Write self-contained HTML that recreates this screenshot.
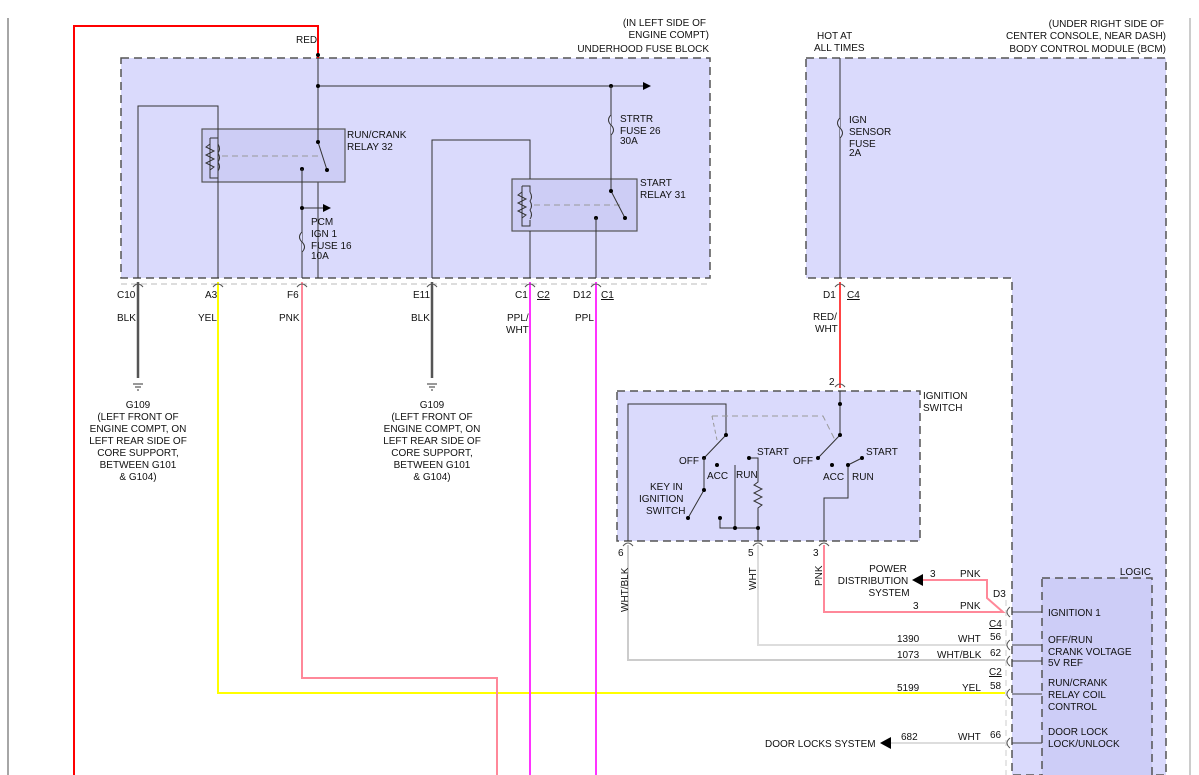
<!DOCTYPE html>
<html><head><meta charset="utf-8"><style>
html,body{margin:0;padding:0;background:#fff}
svg{display:block}
text{font-family:"Liberation Sans",sans-serif;font-size:10px;fill:#111}
</style></head><body>
<svg width="1199" height="775" viewBox="0 0 1199 775" xmlns="http://www.w3.org/2000/svg">
<defs>
<marker id="ar" markerWidth="8" markerHeight="8" refX="7" refY="4" orient="auto" markerUnits="userSpaceOnUse"><path d="M0,0 L8,4 L0,8z" fill="#000"/></marker>
</defs>
<line x1="8" y1="18" x2="8" y2="775" stroke="#888" stroke-width="1.5"/>
<line x1="1190" y1="18" x2="1190" y2="775" stroke="#bbb" stroke-width="1.5"/>

<rect x="121" y="58" width="589" height="220" fill="#dadafc" stroke="#555" stroke-dasharray="8,5" stroke-width="1.5"/>
<path d="M806,58 H1166 V775 H1012 V278 H806 Z" fill="#dadafc" stroke="#555" stroke-dasharray="8,5" stroke-width="1.5"/>
<rect x="1042" y="578" width="110" height="200" fill="#cdcdf7" stroke="#555" stroke-dasharray="8,5" stroke-width="1.5"/>
<rect x="617" y="391" width="303" height="150" fill="#dadafc" stroke="#555" stroke-dasharray="8,5" stroke-width="1.5"/>

<g text-anchor="end">
<text x="706" y="26">(IN LEFT SIDE OF</text>
<text x="709" y="38">ENGINE COMPT)</text>
<text x="709" y="52">UNDERHOOD FUSE BLOCK</text>
<text x="1164" y="27">(UNDER RIGHT SIDE OF</text>
<text x="1166" y="39">CENTER CONSOLE, NEAR DASH)</text>
<text x="1166" y="52">BODY CONTROL MODULE (BCM)</text>
<text x="1151" y="575">LOGIC</text>
</g>
<text x="817" y="39">HOT AT</text>
<text x="814" y="51">ALL TIMES</text>
<text x="296" y="43">RED</text>

<path d="M318,58 V26 H74 V775" fill="none" stroke="#f00" stroke-width="2"/>
<path d="M318,58 V278" stroke="#333" fill="none"/>
<line x1="318" y1="86" x2="650" y2="86" stroke="#333" marker-end="url(#ar)"/>
<circle cx="318" cy="86" r="2"/><circle cx="611" cy="86" r="2"/><circle cx="318" cy="55" r="2"/>
<rect x="202" y="129" width="143" height="53" fill="#cdcdf5" stroke="#555" stroke-width="1.2"/>
<path d="M138,278 V106 H218 V182 M218,182 V278 M302,182 V278" stroke="#333" fill="none"/>
<path d="M210,138 h8 v6 M210,138 v40 h8 v-6" stroke="#333" fill="none"/>
<path d="M210,144 l-4,3 8,4 -8,4 8,4 -8,4 8,4 -4,3" stroke="#333" fill="none"/>
<path d="M218,144 q3,5 0,9 q3,5 0,9 q3,5 0,9" stroke="#333" fill="none"/>
<line x1="222" y1="156" x2="318" y2="156" stroke="#999" stroke-dasharray="6,4"/>
<path d="M318,129 V142 L327,170" stroke="#333" fill="none"/><circle cx="318" cy="142" r="2"/><circle cx="327" cy="170" r="2"/>
<circle cx="302" cy="169" r="2"/><line x1="302" y1="169" x2="302" y2="182" stroke="#333"/>
<line x1="302" y1="208" x2="330" y2="208" stroke="#333" marker-end="url(#ar)"/><circle cx="302" cy="208" r="2"/>
<path d="M302,232 q-5,5 0,10 q5,5 0,10" fill="#dadafc" stroke="#333"/>
<text x="311" y="225">PCM</text><text x="311" y="237">IGN 1</text><text x="311" y="249">FUSE 16</text><text x="311" y="259">10A</text>
<text x="347" y="138">RUN/CRANK</text><text x="347" y="150">RELAY 32</text>
<rect x="512" y="179" width="125" height="52" fill="#cdcdf5" stroke="#555" stroke-width="1.2"/>
<path d="M432,278 V140 H530 V179 M530,231 V278 M596,231 V278 M611,86 V179" stroke="#333" fill="none"/>
<path d="M522,186 h8 v6 M522,186 v40 h8 v-6" stroke="#333" fill="none"/>
<path d="M522,192 l-4,3 8,4 -8,4 8,4 -8,4 8,4 -4,3" stroke="#333" fill="none"/>
<path d="M530,192 q3,5 0,9 q3,5 0,9 q3,5 0,9" stroke="#333" fill="none"/>
<line x1="534" y1="205" x2="620" y2="205" stroke="#999" stroke-dasharray="6,4"/>
<path d="M611,179 V191 L625,218" stroke="#333" fill="none"/><circle cx="611" cy="191" r="2"/><circle cx="625" cy="218" r="2"/>
<circle cx="596" cy="218" r="2"/><line x1="596" y1="218" x2="596" y2="231" stroke="#333"/>
<path d="M611,115 q-5,5 0,10 q5,5 0,10" fill="#dadafc" stroke="#333"/>
<text x="620" y="122">STRTR</text><text x="620" y="134">FUSE 26</text><text x="620" y="144">30A</text>
<text x="640" y="186">START</text><text x="640" y="198">RELAY 31</text>
<g>
<text x="117" y="298">C10</text><text x="205" y="298">A3</text><text x="287" y="298">F6</text><text x="413" y="298">E11</text>
<text x="515" y="298">C1</text><text x="537" y="298" text-decoration="underline">C2</text>
<text x="573" y="298">D12</text><text x="601" y="298" text-decoration="underline">C1</text>
<text x="823" y="298">D1</text><text x="847" y="298" text-decoration="underline">C4</text>
<text x="117" y="321">BLK</text><text x="198" y="321">YEL</text><text x="279" y="321">PNK</text><text x="411" y="321">BLK</text>
<text x="507" y="321">PPL/</text><text x="506" y="333">WHT</text><text x="575" y="321">PPL</text>
<text x="813" y="320">RED/</text><text x="815" y="332">WHT</text>
</g>
<line x1="138" y1="282" x2="138" y2="378" stroke="#555" stroke-width="2.5"/>
<line x1="432" y1="282" x2="432" y2="378" stroke="#555" stroke-width="2.5"/>
<path d="M218,282 V693 H1005" stroke="#ff0" stroke-width="2" fill="none"/>
<path d="M302,282 V678 H497 V775" stroke="#f89" stroke-width="2" fill="none"/>
<line x1="530" y1="282" x2="530" y2="775" stroke="#f3f" stroke-width="2"/>
<line x1="596" y1="282" x2="596" y2="775" stroke="#f3f" stroke-width="2"/>
<line x1="840" y1="282" x2="840" y2="388" stroke="#f44" stroke-width="2"/>
<path d="M840,58 V278" stroke="#333" fill="none"/>
<path d="M840,118 q-5,5 0,10 q5,5 0,10" fill="#dadafc" stroke="#333"/>
<text x="849" y="123">IGN</text><text x="849" y="135">SENSOR</text><text x="849" y="147">FUSE</text><text x="849" y="156">2A</text>
<g stroke="#333"><line x1="133" y1="384" x2="143" y2="384"/><line x1="135" y1="387" x2="141" y2="387"/><line x1="137" y1="390" x2="139" y2="390"/>
<line x1="427" y1="384" x2="437" y2="384"/><line x1="429" y1="387" x2="435" y2="387"/><line x1="431" y1="390" x2="433" y2="390"/></g>
<g text-anchor="middle">
<text x="138" y="408">G109</text><text x="138" y="420">(LEFT FRONT OF</text><text x="138" y="432">ENGINE COMPT, ON</text><text x="138" y="444">LEFT REAR SIDE OF</text><text x="138" y="456">CORE SUPPORT,</text><text x="138" y="468">BETWEEN G101</text><text x="138" y="480">&amp; G104)</text>
<text x="432" y="408">G109</text><text x="432" y="420">(LEFT FRONT OF</text><text x="432" y="432">ENGINE COMPT, ON</text><text x="432" y="444">LEFT REAR SIDE OF</text><text x="432" y="456">CORE SUPPORT,</text><text x="432" y="468">BETWEEN G101</text><text x="432" y="480">&amp; G104)</text>
</g>
<text x="829" y="385">2</text>
<text x="923" y="399">IGNITION</text><text x="923" y="411">SWITCH</text>
<path d="M628,541 V404 H726 V435 L705,457" stroke="#333" fill="none"/>
<circle cx="726" cy="435" r="2"/><circle cx="704" cy="458" r="2"/>
<path d="M704,458 V490 L688,518" stroke="#333" fill="none"/><circle cx="704" cy="490" r="2"/><circle cx="688" cy="518" r="2"/>
<circle cx="717" cy="465" r="2"/>
<path d="M735,528 V465 M749,458 H758 V482 l-4,3 8,4 -8,4 8,4 -8,4 8,4 -4,3 V541 M720,518 V528 H758" stroke="#333" fill="none"/>
<circle cx="749" cy="458" r="2"/><circle cx="735" cy="528" r="2"/><circle cx="758" cy="528" r="2"/><circle cx="720" cy="518" r="2"/>
<path d="M712,416 H823 L835,440" stroke="#999" fill="none" stroke-dasharray="6,4"/>
<path d="M712,416 L717,440" stroke="#999" fill="none" stroke-dasharray="4,3"/>
<path d="M840,391 V435 L818,458" stroke="#333" fill="none"/>
<circle cx="840" cy="404" r="2"/><circle cx="840" cy="435" r="2"/><circle cx="818" cy="458" r="2"/>
<circle cx="832" cy="465" r="2"/>
<path d="M848,465 L862,458 M848,465 V498 H824 V541" stroke="#333" fill="none"/>
<circle cx="848" cy="465" r="2"/><circle cx="862" cy="458" r="2"/>
<text x="679" y="464">OFF</text><text x="707" y="479">ACC</text><text x="736" y="478">RUN</text><text x="757" y="455">START</text>
<text x="793" y="464">OFF</text><text x="823" y="480">ACC</text><text x="852" y="480">RUN</text><text x="866" y="455">START</text>
<text x="650" y="490">KEY IN</text><text x="639" y="502">IGNITION</text><text x="646" y="514">SWITCH</text>
<text x="618" y="556">6</text><text x="748" y="556">5</text><text x="813" y="556">3</text>
<path d="M628,545 V660 H1005" stroke="#ccc" stroke-width="2" fill="none"/>
<path d="M758,545 V645 H1005" stroke="#ddd" stroke-width="2" fill="none"/>
<path d="M824,545 V612 H1003 L987,598 V580 H922" stroke="#f89" stroke-width="2" fill="none"/>
<path d="M912,580 L923,574 V586 Z" fill="#000"/>
<path d="M1005,743 H890" stroke="#ddd" stroke-width="2"/>
<path d="M880,743 L891,737 V749 Z" fill="#000"/>
<text x="628" y="612" transform="rotate(-90 628 612)">WHT/BLK</text>
<text x="756" y="590" transform="rotate(-90 756 590)">WHT</text>
<text x="822" y="586" transform="rotate(-90 822 586)">PNK</text>
<g text-anchor="middle"><text x="888" y="572">POWER</text><text x="873" y="584">DISTRIBUTION</text><text x="889" y="596">SYSTEM</text></g>
<text x="930" y="577">3</text><text x="960" y="577">PNK</text>
<text x="913" y="609">3</text><text x="960" y="609">PNK</text><text x="993" y="597">D3</text>
<text x="989" y="627" text-decoration="underline">C4</text>
<text x="897" y="642">1390</text><text x="958" y="642">WHT</text><text x="990" y="640">56</text>
<text x="897" y="658">1073</text><text x="937" y="658">WHT/BLK</text><text x="990" y="656">62</text>
<text x="989" y="675" text-decoration="underline">C2</text>
<text x="897" y="691">5199</text><text x="962" y="691">YEL</text><text x="990" y="689">58</text>
<text x="901" y="740">682</text><text x="958" y="740">WHT</text><text x="990" y="738">66</text>
<text x="765" y="747">DOOR LOCKS SYSTEM</text>
<line x1="1006" y1="600" x2="1006" y2="775" stroke="#ccc" stroke-dasharray="6,4"/>
<g stroke="#444">
<line x1="1012" y1="612" x2="1042" y2="612"/><line x1="1012" y1="645" x2="1042" y2="645"/><line x1="1012" y1="661" x2="1042" y2="661"/><line x1="1012" y1="694" x2="1042" y2="694"/><line x1="1012" y1="743" x2="1042" y2="743"/>
</g>
<text x="1048" y="616">IGNITION 1</text>
<text x="1048" y="643">OFF/RUN</text><text x="1048" y="655">CRANK VOLTAGE</text><text x="1048" y="666">5V REF</text>
<text x="1048" y="686">RUN/CRANK</text><text x="1048" y="698">RELAY COIL</text><text x="1048" y="710">CONTROL</text>
<text x="1048" y="735">DOOR LOCK</text><text x="1048" y="747">LOCK/UNLOCK</text>
<line x1="121" y1="284" x2="710" y2="284" stroke="#bbb" stroke-dasharray="6,4"/>
<g stroke="#555" fill="none">
<path d="M133,287 q5,-6 10,0 M213,287 q5,-6 10,0 M297,287 q5,-6 10,0 M427,287 q5,-6 10,0 M525,287 q5,-6 10,0 M591,287 q5,-6 10,0 M835,287 q5,-6 10,0 M835,387 q5,-6 10,0 M623,546 q5,-6 10,0 M753,546 q5,-6 10,0 M819,546 q5,-6 10,0"/>
<path d="M1010,607 q-6,5 0,10 M1010,640 q-6,5 0,10 M1010,656 q-6,5 0,10 M1010,689 q-6,5 0,10 M1010,738 q-6,5 0,10"/>
</g>
</svg>
</body></html>
